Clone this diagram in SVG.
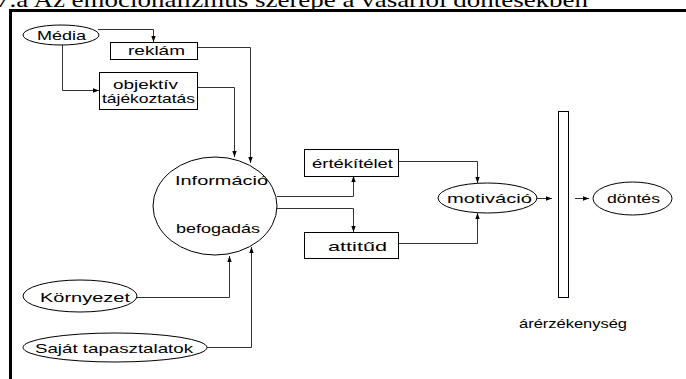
<svg xmlns="http://www.w3.org/2000/svg" width="686" height="379" viewBox="0 0 686 379">
<style>
text{font-family:"Liberation Sans",Arial,sans-serif;font-size:13px;fill:#000;}
.title{font-family:"Liberation Serif","Times New Roman",serif;font-size:22px;}
.shape{fill:#fff;stroke:#000;stroke-width:1;}
.conn{fill:none;stroke:#333;stroke-width:1;}
</style>
<defs>
<marker id="arr" markerUnits="userSpaceOnUse" markerWidth="6" markerHeight="6" refX="6" refY="3" orient="auto">
<path d="M0,0.8 L6,3 L0,5.2 z" fill="#000"/>
</marker>
</defs>
<rect width="686" height="379" fill="#fff"/>
<text class="title" x="-4" y="7" textLength="592" lengthAdjust="spacingAndGlyphs">7.a Az emocionalizmus szerepe a vásárlói döntésekben</text>
<path d="M10.5,379 V10.5 H686" fill="none" stroke="#000" stroke-width="3"/>

<g id="connectors">
<path class="conn" d="M98,29.5 H153.5 V42" marker-end="url(#arr)"/>
<path class="conn" d="M62.5,45 V90.5 H99" marker-end="url(#arr)"/>
<path class="conn" d="M197,47.5 H250.5 V163" marker-end="url(#arr)"/>
<path class="conn" d="M197,87.5 H234.5 V157" marker-end="url(#arr)"/>
<path class="conn" d="M277,196.5 H353.5 V176" marker-end="url(#arr)"/>
<path class="conn" d="M277,208.5 H353.5 V232" marker-end="url(#arr)"/>
<path class="conn" d="M398,161.5 H477.5 V183" marker-end="url(#arr)"/>
<path class="conn" d="M398,243.5 H477.5 V213" marker-end="url(#arr)"/>
<path class="conn" d="M537,198.5 H552" marker-end="url(#arr)"/>
<path class="conn" d="M575,198.5 H589" marker-end="url(#arr)"/>
<path class="conn" d="M137,297.5 H229.5 V256" marker-end="url(#arr)"/>
<path class="conn" d="M207,347.5 H251.5 V247" marker-end="url(#arr)"/>
</g>

<g id="media">
<ellipse class="shape" cx="61" cy="35" rx="38" ry="10"/>
<text x="37" y="40" textLength="49" lengthAdjust="spacingAndGlyphs">Média</text>
</g>
<g id="reklam">
<rect class="shape" x="110.5" y="42.5" width="87" height="17"/>
<text x="128" y="55" textLength="57" lengthAdjust="spacingAndGlyphs">reklám</text>
</g>
<g id="objektiv">
<rect class="shape" x="99.5" y="72.5" width="98" height="37"/>
<text x="113" y="89" textLength="65" lengthAdjust="spacingAndGlyphs">objektív</text>
<text x="102" y="103" textLength="93" lengthAdjust="spacingAndGlyphs">tájékoztatás</text>
</g>
<g id="informacio">
<ellipse class="shape" cx="215" cy="206" rx="62" ry="49"/>
<text x="175" y="185" textLength="93" lengthAdjust="spacingAndGlyphs">Információ</text>
<text x="176" y="233" textLength="84" lengthAdjust="spacingAndGlyphs">befogadás</text>
</g>
<g id="ertekitelet">
<rect class="shape" x="304.5" y="149.5" width="94" height="27"/>
<text x="312" y="168" textLength="81" lengthAdjust="spacingAndGlyphs">értékítélet</text>
</g>
<g id="attitud">
<rect class="shape" x="304.5" y="232.5" width="94" height="26"/>
<text x="328" y="251" textLength="59" lengthAdjust="spacingAndGlyphs">attitűd</text>
</g>
<g id="motivacio">
<ellipse class="shape" cx="487.5" cy="198" rx="49.5" ry="15"/>
<text x="447" y="203" textLength="85" lengthAdjust="spacingAndGlyphs">motiváció</text>
</g>
<g id="arerzekenyseg">
<rect class="shape" x="558.5" y="111.5" width="10" height="186"/>
<text x="519" y="328" textLength="108" lengthAdjust="spacingAndGlyphs">árérzékenység</text>
</g>
<g id="dontes">
<ellipse class="shape" cx="632.5" cy="198.5" rx="39.5" ry="16.5"/>
<text x="607" y="203" textLength="53" lengthAdjust="spacingAndGlyphs">döntés</text>
</g>
<g id="kornyezet">
<ellipse class="shape" cx="80" cy="296" rx="57" ry="16"/>
<text x="40" y="302" textLength="90" lengthAdjust="spacingAndGlyphs">Környezet</text>
</g>
<g id="sajat">
<ellipse class="shape" cx="115" cy="347.5" rx="92" ry="14.5"/>
<text x="35" y="353" textLength="158" lengthAdjust="spacingAndGlyphs">Saját tapasztalatok</text>
</g>
</svg>
